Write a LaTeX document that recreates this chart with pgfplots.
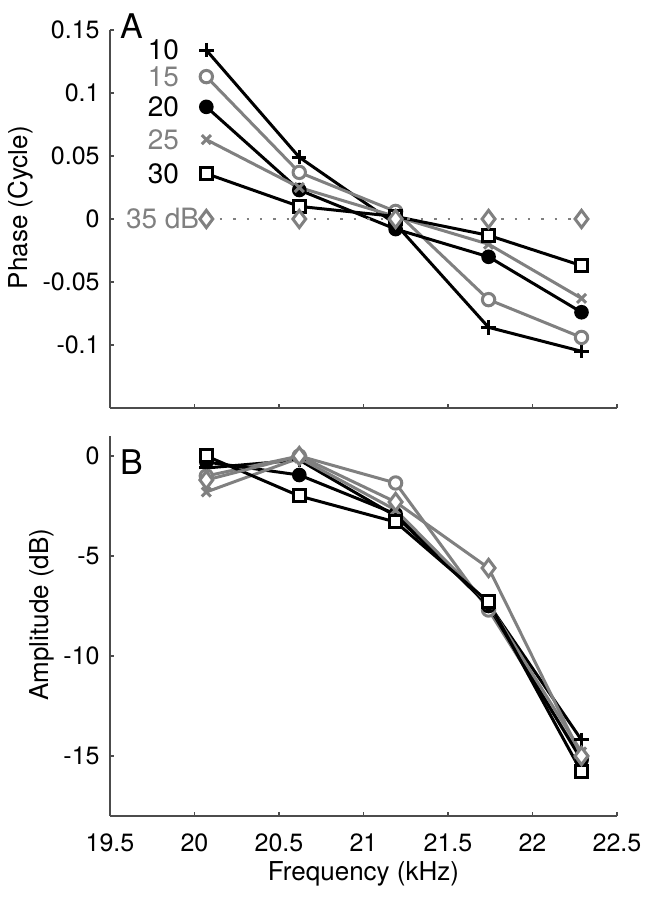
\documentclass[border=0pt]{standalone}
\usepackage{fontspec}
\setmainfont{TeX Gyre Heros}
\usepackage{pgfplots}
\pgfplotsset{compat=1.18}
\definecolor{mgray}{gray}{0.5}
\definecolor{axgray}{gray}{0.3}

\pgfplotstableread{
x      a10    a15    a20    a25    a30    a35
20.07  0.134  0.113  0.089  0.063  0.036  0
20.62  0.049  0.037  0.023  0.025  0.010  0
21.19 -0.004  0.006 -0.008  0.002  0.002  0
21.74 -0.086 -0.064 -0.030 -0.020 -0.013  0
22.29 -0.105 -0.094 -0.074 -0.063 -0.037  0
}\phase

\pgfplotstableread{
x      a10    a15    a20    a25    a30    a35
20.07 -0.6   -1.0   -0.3   -1.8    0.0   -1.2
20.62 -0.2    0.0   -0.95  -0.1   -2.0    0.0
21.19 -3.0   -1.35  -2.9   -2.7   -3.3   -2.3
21.74 -7.4   -7.7   -7.5   -7.4   -7.3   -5.6
22.29 -14.2  -15.1  -15.2  -14.8  -15.8  -15.0
}\ampl

\pgfplotsset{
  panel/.style={
    scale only axis, width=253.5pt,
    xmin=19.5, xmax=22.5,
    axis x line*=bottom, axis y line*=left,
    axis line style={axgray, line width=0.6pt},
    tick align=inside, major tick length=1.8pt,
    tick style={axgray, line width=0.6pt},
    xtick={19.5,20,20.5,21,21.5,22,22.5},
    clip=false,
    ticklabel style={font=\fontsize{12.5}{14}\selectfont, inner sep=0pt},
    yticklabel style={xshift=-5pt},
    xticklabel style={yshift=-8.5pt},
    label style={font=\fontsize{13}{15}\selectfont, inner sep=0pt},
  },
  s10/.style={black, line width=1.5pt, mark=+, mark size=3.6pt},
  s15/.style={mgray, line width=1.5pt, mark=*, mark size=3.1pt, mark options={fill=white}},
  s20/.style={black, line width=1.5pt, mark=*, mark size=2.9pt},
  s25/.style={mgray, line width=1.5pt, mark=x, mark size=3.2pt},
  s30/.style={black, line width=1.5pt, mark=square*, mark size=3pt, mark options={fill=white}},
  s35/.style={mgray, line width=1.5pt, mark=diamond*, mark size=4.3pt, mark options={fill=white}},
}

\begin{document}
\begin{tikzpicture}
\useasboundingbox (0,0) rectangle (324.5pt,449.5pt);

% Panel A
\begin{axis}[panel,
  at={(55pt,245.5pt)}, anchor=south west, height=189pt,
  ymin=-0.15, ymax=0.15,
  ytick={-0.1,-0.05,0,0.05,0.1,0.15},
  yticklabels={-0.1,-0.05,0,0.05,0.1,0.15},
  xticklabels={,,,,,,},
  ylabel={Phase (Cycle)},
  ylabel style={at={([xshift=-38pt]axis description cs:0,0.53)}, anchor=south},
]
\addplot[s10] table[x=x,y=a10] {\phase};
\addplot[s15] table[x=x,y=a15] {\phase};
\addplot[s20] table[x=x,y=a20] {\phase};
\addplot[s25] table[x=x,y=a25] {\phase};
\addplot[s30] table[x=x,y=a30] {\phase};
\addplot[mgray, line width=1.1pt, dash pattern=on 1.2pt off 5.5pt, mark=diamond*, mark size=4.3pt, mark options={solid, line width=1.5pt, fill=white}] table[x=x,y=a35] {\phase};
\node[anchor=north west, inner sep=0pt, font=\fontsize{17}{19}\selectfont] at (axis cs:19.56,0.163) {A};
\node[anchor=east, inner sep=0pt, font=\fontsize{14}{16}\selectfont, black] at (axis cs:19.91,0.134) {10};
\node[anchor=east, inner sep=0pt, font=\fontsize{14}{16}\selectfont, mgray] at (axis cs:19.91,0.113) {15};
\node[anchor=east, inner sep=0pt, font=\fontsize{14}{16}\selectfont, black] at (axis cs:19.91,0.089) {20};
\node[anchor=east, inner sep=0pt, font=\fontsize{14}{16}\selectfont, mgray] at (axis cs:19.91,0.063) {25};
\node[anchor=east, inner sep=0pt, font=\fontsize{14}{16}\selectfont, black] at (axis cs:19.91,0.036) {30};
\node[anchor=east, inner sep=0pt, font=\fontsize{14}{16}\selectfont, mgray] at (axis cs:20.03,0) {35 dB};
\end{axis}

% Panel B
\begin{axis}[panel,
  at={(55pt,41.5pt)}, anchor=south west, height=190pt,
  ymin=-18, ymax=1,
  ytick={-15,-10,-5,0},
  yticklabels={-15,-10,-5,0},
  xticklabels={19.5,20,20.5,21,21.5,22,22.5},
  ylabel={Amplitude (dB)},
  ylabel style={at={([xshift=-27.5pt]axis description cs:0,0.53)}, anchor=south},
  xlabel={Frequency (kHz)},
  xlabel style={at={([yshift=-22.5pt]axis description cs:0.5,0)}, anchor=north},
]
\addplot[s10] table[x=x,y=a10] {\ampl};
\addplot[s15] table[x=x,y=a15] {\ampl};
\addplot[s20] table[x=x,y=a20] {\ampl};
\addplot[s25] table[x=x,y=a25] {\ampl};
\addplot[s30] table[x=x,y=a30] {\ampl};
\addplot[s35] table[x=x,y=a35] {\ampl};
\node[anchor=north west, inner sep=0pt, font=\fontsize{17}{19}\selectfont] at (axis cs:19.56,0.35) {B};
\end{axis}
\end{tikzpicture}
\end{document}
